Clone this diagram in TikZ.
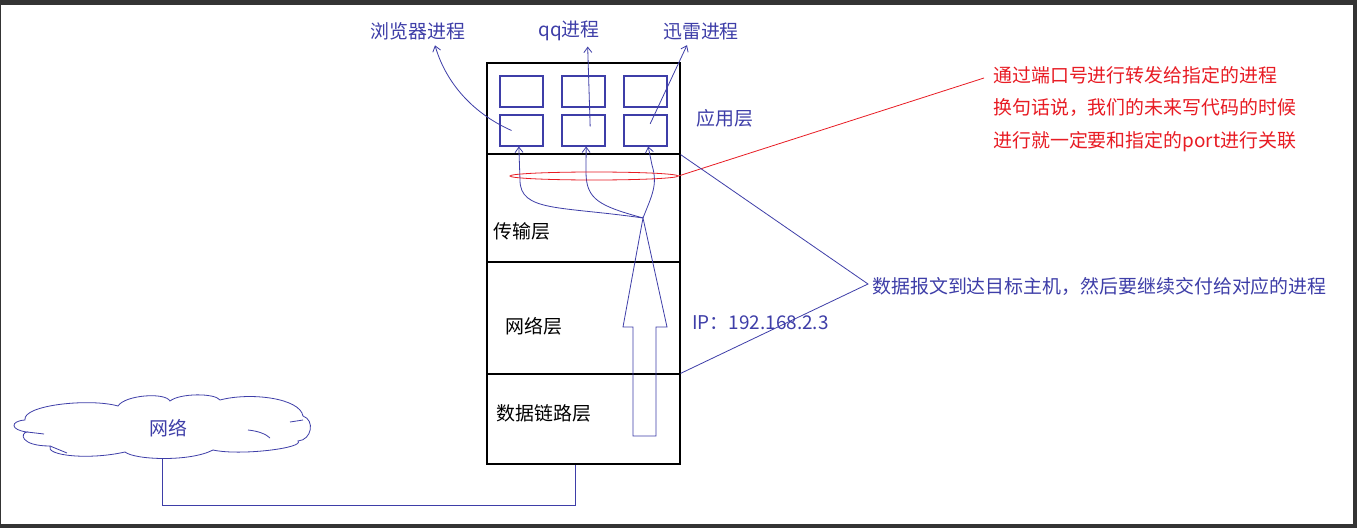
\documentclass[tikz,border=0pt]{standalone}
\usepackage{fontspec}
\setmainfont{Noto Sans CJK SC}
\usepackage{xcolor}
\usepackage{tikz}
\usetikzlibrary{arrows.meta,positioning,shapes.geometric}
\definecolor{procblue}{RGB}{62,62,168}
\definecolor{notered}{RGB}{232,28,36}
\definecolor{framegray}{RGB}{52,52,52}
\newcommand\lblsize{\fontsize{14.2}{17}\selectfont}
\tikzset{
  layer/.style={rectangle, draw, line width=0.9pt, minimum width=144.75pt, inner sep=0pt},
  proc/.style={rectangle, draw=procblue, line width=0.8pt, minimum width=32.25pt, minimum height=23.25pt, inner sep=0pt},
  lbl/.style={inner sep=0pt, font=\lblsize},
  bluelbl/.style={lbl, text=procblue},
  flow/.style={-{Straight Barb[length=4pt,width=6pt]}, draw=procblue, line width=0.6pt},
  link/.style={draw=procblue, line width=0.6pt},
  redlink/.style={draw=notered, line width=0.6pt}
}

\begin{document}
\begin{tikzpicture}[x=0.75pt, y=-0.75pt]
  \useasboundingbox (0,0) rectangle (1357,528);
  \fill[framegray] (0,0) rectangle (1357,528);
  \fill[white] (1,5) rectangle (1353,524);

  \node[layer, minimum height=68.25pt] (app) at (583.5,108.5) {};
  \node[layer, minimum height=81pt] (trans) at (583.5,208) {};
  \node[layer, minimum height=84pt] (netw) at (583.5,318) {};
  \node[layer, minimum height=67.5pt] (lnk) at (583.5,419) {};

  \node[proc] (p1a) at (521.5,91.5) {};
  \node[proc] (p2a) at (583.5,91.5) {};
  \node[proc] (p3a) at (645.5,91.5) {};
  \node[proc] (p1b) at (521.5,130.5) {};
  \node[proc] (p2b) at (583.5,130.5) {};
  \node[proc] (p3b) at (645.5,130.5) {};

  \node[bluelbl] (browser) at (418,31) {浏览器进程};
  \node[bluelbl] (qq) at (569,31) {qq进程};
  \node[bluelbl] (thunder) at (701,31) {迅雷进程};

  \node[bluelbl, anchor=west] (applbl) at (696,118) {应用层};
  \node[lbl, anchor=west] (translbl) at (493,231) {传输层};
  \node[lbl, anchor=west] (netwlbl) at (505,326) {网络层};
  \node[lbl, anchor=west] (lnklbl) at (496,413) {数据链路层};
  \node[bluelbl, anchor=west] (iplbl) at (692,323) {IP：192.168.2.3};

  \draw[flow] ([xshift=-7.5pt]p1b.center) .. controls (470,112) and (445,80) .. ([xshift=12.75pt,yshift=-4pt]browser.south);
  \draw[flow] ([xshift=5pt,yshift=3pt]p2b.center) -- ([xshift=14pt,yshift=-4pt]qq.south);
  \draw[flow] ([xshift=3.5pt,yshift=5pt]p3b.center) -- ([xshift=-10.5pt,yshift=-4pt]thunder.south);

  \draw[link] (633,436) -- (633,327) -- (623,327) -- (643,218) -- (667,327) -- (656,327) -- (656,436) -- cycle;
  \coordinate (tip) at (643,218);
  \draw[flow] (tip) .. controls (560,206) and (520,212) .. (520,180) -- ([xshift=-2pt]p1b.south);
  \draw[flow] (tip) .. controls (600,206) and (586,200) .. (586,172) -- ([xshift=2pt]p2b.south);
  \draw[flow] (tip) .. controls (652,195) and (658,185) .. (652,165) -- ([xshift=2pt]p3b.south);

  \node[ellipse, draw=notered, line width=0.6pt, minimum width=126pt, minimum height=6pt, inner sep=0pt] (portring) at (594,176) {};
  \coordinate (notetip) at (984,78);
  \draw[redlink] (portring.east) -- (notetip);
  \node[lbl, text=notered, anchor=north west, align=left, font=\fontsize{14.2}{24.5}\selectfont] (note) at (993,66)
    {通过端口号进行转发给指定的进程\\换句话说，我们的未来写代码的时候\\进行就一定要和指定的port进行关联};

  \coordinate (datatip) at (868,284);
  \node[bluelbl, anchor=west] (datamsg) at (872,286) {数据报文到达目标主机，然后要继续交付给对应的进程};
  \draw[link] (app.south east) -- (datatip) -- (lnk.north east);

  \draw[link] (25,420) .. controls (22,405) and (90,398) .. (118,406)
    .. controls (125,395) and (165,392) .. (170,401)
    .. controls (180,393) and (215,393) .. (220,400)
    .. controls (250,392) and (300,398) .. (303,416)
    .. controls (315,420) and (312,440) .. (298,441)
    .. controls (305,448) and (240,456) .. (213,450)
    .. controls (190,462) and (135,460) .. (125,452)
    .. controls (90,460) and (45,456) .. (50,446)
    .. controls (20,446) and (20,433) .. (27,432)
    .. controls (10,430) and (10,421) .. (25,420) -- cycle;
  \draw[link] (27,432) -- (44,434);
  \draw[link] (50,446) -- (67,453);
  \draw[link] (248,430) .. controls (258,431) and (266,434) .. (270,438);
  \draw[link] (290,422) -- (303,420);
  \node[ellipse, minimum width=221pt, minimum height=46pt, inner sep=0pt, text=procblue, font=\lblsize] (net) at (162,428) {\hspace{9pt}网络};
  \coordinate (bend) at (575,505);
  \draw[link] (net.south) |- (bend) -- (bend |- lnk.south);
\end{tikzpicture}
\end{document}
